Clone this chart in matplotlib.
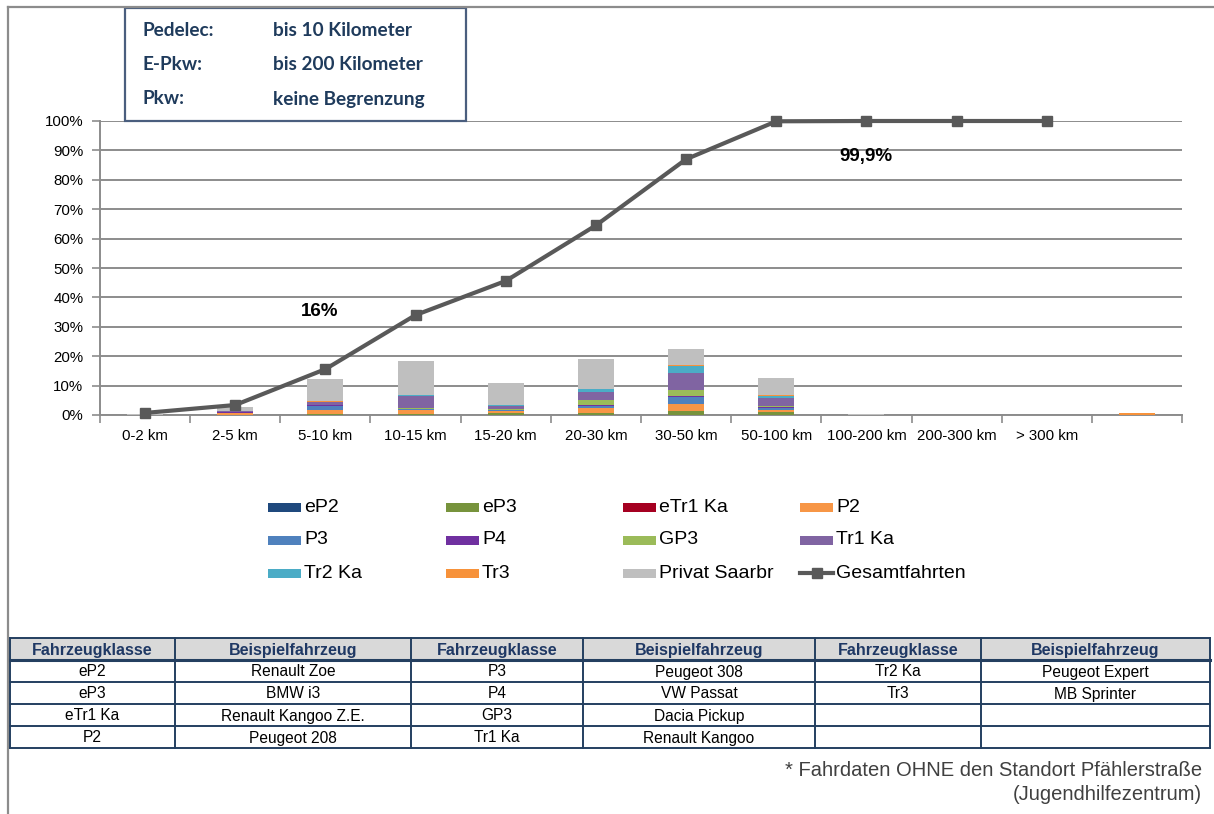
import numpy as np
import matplotlib
matplotlib.use("Agg")
import matplotlib.pyplot as plt
from matplotlib.patches import Rectangle
from matplotlib.lines import Line2D

plt.rcParams["font.family"] = ["Liberation Sans", "DejaVu Sans"]

# ---- data -------------------------------------------------------------
categories = ["0-2 km", "2-5 km", "5-10 km", "10-15 km", "15-20 km", "20-30 km",
              "30-50 km", "50-100 km", "100-200 km", "200-300 km", "> 300 km", ""]

series_names = ["eP2", "eP3", "eTr1 Ka", "P2", "P3", "P4", "GP3", "Tr1 Ka",
                "Tr2 Ka", "Tr3", "Privat Saarbr"]
series_colors = ["#1F497D", "#77933C", "#A50021", "#F79646", "#4F81BD", "#7030A0",
                 "#9BBB59", "#8064A2", "#4BACC6", "#F7923A", "#BFBFBF"]

eP2 = [0, 0, 0.1, 0, 0.1, 0.1, 0.1, 0.1, 0, 0, 0, 0]
eP3 = [0, 0.1, 0.4, 0.2, 0.45, 0.7, 1.1, 0.9, 0, 0, 0, 0]
eTr1_Ka = [0, 0, 0, 0, 0, 0, 0, 0, 0, 0, 0, 0]
P2 = [0, 0.6, 1.3, 1.4, 0.7, 1.6, 2.6, 0.8, 0, 0, 0, 0]
P3 = [0, 0.1, 1.2, 0.4, 0.3, 0.8, 2.2, 0.7, 0, 0, 0, 0]
P4 = [0, 0.2, 0.3, 0.2, 0.3, 0.3, 0.3, 0.3, 0, 0, 0, 0]
GP3 = [0, 0, 0.1, 0.2, 0.2, 1.7, 2.3, 0.2, 0, 0, 0, 0]
Tr1_Ka = [0, 0.5, 0.9, 4.1, 1.0, 2.5, 5.6, 2.8, 0, 0, 0, 0]
Tr2_Ka = [0, 0, 0.1, 0.3, 0.3, 1.2, 2.6, 0.8, 0, 0, 0, 0]
Tr3 = [0, 0, 0.2, 0.1, 0.1, 0.1, 0.1, 0.3, 0, 0, 0, 0.7]
Privat_Saarbr = [0.3, 1.3, 7.6, 11.3, 7.6, 10.0, 5.4, 5.8, 0.3, 0.05, 0.05, 0]

series_values = [eP2, eP3, eTr1_Ka, P2, P3, P4, GP3, Tr1_Ka, Tr2_Ka, Tr3, Privat_Saarbr]

gesamtfahrten = [0.7, 3.4, 15.6, 34.0, 45.6, 64.5, 87.0, 99.9, 100, 100, 100, np.nan]
labelled_points = [2, 7]

range_labels = ["Pedelec:", "E-Pkw:", "Pkw:"]
range_limits = ["bis 10 Kilometer", "bis 200 Kilometer", "keine Begrenzung"]

table_header = ["Fahrzeugklasse", "Beispielfahrzeug"] * 3
table_rows = [
    ["eP2", "Renault Zoe", "P3", "Peugeot 308", "Tr2 Ka", "Peugeot Expert"],
    ["eP3", "BMW i3", "P4", "VW Passat", "Tr3", "MB Sprinter"],
    ["eTr1 Ka", "Renault Kangoo Z.E.", "GP3", "Dacia Pickup", "", ""],
    ["P2", "Peugeot 208", "Tr1 Ka", "Renault Kangoo", "", ""],
]
footnote = ["* Fahrdaten OHNE den Standort Pfählerstraße", "(Jugendhilfezentrum)"]

# ---- figure -----------------------------------------------------------
W, H = 1214, 814
fig = plt.figure(figsize=(W / 100, H / 100), dpi=100)

ax = fig.add_axes([100 / W, 1 - 415 / H, 1082 / W, 294 / H])
x = np.arange(len(categories))
bottom = np.zeros(len(categories))
for name, vals, col in zip(series_names, series_values, series_colors):
    v = np.array(vals, dtype=float)
    ax.bar(x, v, width=0.4, bottom=bottom, color=col, label=name, zorder=3,
           linewidth=0)
    bottom += v

line_color = "#595959"
ax.plot(x, gesamtfahrten, color=line_color, lw=3, marker="s", markersize=7,
        zorder=5, clip_on=False, label="Gesamtfahrten")

# value labels next to selected points of the cumulative line
label_offsets = {2: (-0.06, 19.5), 7: (1.0, -12)}
for i in labelled_points:
    v = gesamtfahrten[i]
    txt = f"{round(v)}%" if i == 2 else f"{v:.1f}%".replace(".", ",")
    dx, dy = label_offsets[i]
    ax.text(x[i] + dx, v + dy, txt, ha="center", va="center",
            fontsize=13.5, fontweight="bold", color="#000000", zorder=6)

ax.set_xlim(-0.5, len(categories) - 0.5)
ax.set_ylim(0, 100)
ax.set_yticks(np.arange(0, 101, 10))
ax.set_yticklabels([f"{t}%" for t in range(0, 101, 10)])
ax.set_xticks(x)
ax.set_xticklabels(categories)
ax.set_xticks(np.arange(-0.5, len(categories)), minor=True)
ax.tick_params(axis="x", which="major", length=0, pad=10, labelsize=10.8)
ax.tick_params(axis="x", which="minor", length=6, width=1.2, color="#8C8C8C")
ax.tick_params(axis="y", length=6, width=1.2, color="#8C8C8C", labelsize=10.8, pad=6)
ax.grid(axis="y", color="#8C8C8C", lw=1.4, zorder=0)
ax.set_axisbelow(True)
for s in ["top", "right"]:
    ax.spines[s].set_visible(False)
for s in ["left", "bottom"]:
    ax.spines[s].set_color("#8C8C8C")
    ax.spines[s].set_linewidth(1.4)
ax.patch.set_alpha(0)

# ---- overlay in pixel coordinates -----------------------------------
ov = fig.add_axes([0, 0, 1, 1], zorder=10)
ov.set_xlim(0, W)
ov.set_ylim(H, 0)
ov.axis("off")
ov.patch.set_alpha(0)

# chart frame (left and top edges)
ov.add_line(Line2D([8, 8], [7, H], color="#8C8C8C", lw=1.6))
ov.add_line(Line2D([8, W], [7, 7], color="#8C8C8C", lw=1.6))

# range box
ov.add_patch(Rectangle((125, 8), 341, 113, facecolor="white",
                       edgecolor="#4A5E7E", lw=1.6))
box_color = "#1F3B5C"
for j, (lab, lim) in enumerate(zip(range_labels, range_limits)):
    yy = 30 + j * 34.5
    ov.text(143, yy, lab, fontsize=13.7, fontweight="bold", color=box_color,
            family=["Lato", "DejaVu Sans"], va="center", ha="left")
    ov.text(273, yy, lim, fontsize=13.7, fontweight="bold", color=box_color,
            family=["Lato", "DejaVu Sans"], va="center", ha="left")

# legend
leg_cols = [268, 446, 623, 800]
leg_rows = [507, 540, 573]
entries = list(zip(series_names, series_colors)) + [("Gesamtfahrten", None)]
for k, (name, col) in enumerate(entries):
    lx = leg_cols[k % 4]
    ly = leg_rows[k // 4]
    if col is not None:
        ov.add_patch(Rectangle((lx, ly - 4.5), 33, 9, facecolor=col, lw=0))
    else:
        ov.add_line(Line2D([lx, lx + 33], [ly, ly], color=line_color, lw=3))
        ov.add_line(Line2D([lx + 16.5], [ly], color=line_color, marker="s",
                           markersize=7, lw=0))
    ov.text(lx + 36, ly, name, fontsize=14, va="center", ha="left", color="#000000")

# vehicle table
col_edges = [10, 175, 411, 583, 815, 981, 1210]
row_edges = [638, 660, 682, 704, 726, 748]
tbl_line = "#243F60"
ov.add_patch(Rectangle((col_edges[0], row_edges[0]), col_edges[-1] - col_edges[0],
                       row_edges[1] - row_edges[0], facecolor="#D9D9D9", lw=0))
for cx in col_edges:
    ov.add_line(Line2D([cx, cx], [row_edges[0], row_edges[-1]], color=tbl_line, lw=1.4))
for r, ry in enumerate(row_edges):
    ov.add_line(Line2D([col_edges[0], col_edges[-1]], [ry, ry], color=tbl_line,
                       lw=2.2 if r == 1 else 1.4))
for c, head in enumerate(table_header):
    cx = (col_edges[c] + col_edges[c + 1]) / 2
    ov.text(cx, (row_edges[0] + row_edges[1]) / 2 + 1, head, ha="center", va="center",
            fontsize=11.5, fontweight="bold", color="#1F3864")
for r, row in enumerate(table_rows):
    cy = (row_edges[r + 1] + row_edges[r + 2]) / 2 + 1
    for c, cell in enumerate(row):
        cx = (col_edges[c] + col_edges[c + 1]) / 2
        ov.text(cx, cy, cell, ha="center", va="center", fontsize=11.2, color="#000000")

# footnote
for j, line in enumerate(footnote):
    ov.text(1202, 771 + j * 24, line, ha="right", va="center", fontsize=14.5,
            color="#404040")

fig.savefig("out.png", dpi=100)
